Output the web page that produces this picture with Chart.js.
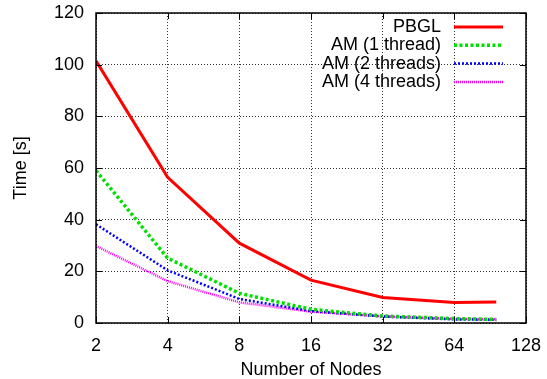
<!DOCTYPE html>
<html>
<head>
<meta charset="utf-8">
<script src="https://cdn.jsdelivr.net/npm/chart.js@4.4.0/dist/chart.umd.min.js"></script>
<style>
  body { margin: 0; background: #fff; }
  canvas { display: block; }
</style>
</head>
<body>
<canvas id="timeChart" width="547" height="379"></canvas>
<script>
// Number of nodes (x) and run times in seconds
const nodes = [2, 4, 8, 16, 32, 64, 96];
const xTicks = [2, 4, 8, 16, 32, 64, 128];
const pbgl = [101.5, 56.4, 30.9, 16.6, 9.9, 7.9, 8.1];
const am1 = [59, 25.1, 11.5, 5.3, 2.7, 1.7, 1.4];
const am2 = [38.2, 20.4, 9.3, 4.6, 2.5, 1.4, 1.2];
const am4 = [29.8, 16.2, 8.0, 4.4, 2.6, 1.6, 1.4];

const FONT = "Liberation Sans, Arial, sans-serif";

function pts(vals) {
  return vals.map((v, i) => ({ x: nodes[i], y: v }));
}

// gnuplot-like frame with inward ticks + legend in the top right
const framePlugin = {
  id: "frame",
  afterDatasetsDraw(chart) {
    const ctx = chart.ctx;
    const a = chart.chartArea;
    const xs = chart.scales.x, ys = chart.scales.y;
    ctx.save();
    ctx.strokeStyle = "#000";
    ctx.lineWidth = 1.5;
    ctx.setLineDash([]);
    ctx.strokeRect(a.left, a.top, a.right - a.left, a.bottom - a.top);
    ctx.lineWidth = 1;
    ctx.beginPath();
    xTicks.forEach(v => {
      const px = Math.round(xs.getPixelForValue(v)) + 0.5;
      ctx.moveTo(px, a.bottom); ctx.lineTo(px, a.bottom - 6);
      ctx.moveTo(px, a.top); ctx.lineTo(px, a.top + 6);
    });
    ys.ticks.forEach(t => {
      const py = Math.round(ys.getPixelForValue(t.value)) + 0.5;
      ctx.moveTo(a.left, py); ctx.lineTo(a.left + 6, py);
      ctx.moveTo(a.right, py); ctx.lineTo(a.right - 6, py);
    });
    ctx.stroke();

    // legend
    ctx.font = "18px " + FONT;
    ctx.textAlign = "right";
    ctx.textBaseline = "middle";
    chart.data.datasets.forEach((ds, i) => {
      const y = 27 + i * 18.3;
      ctx.fillStyle = "#000";
      ctx.fillText(ds.label, 441, y);
      ctx.strokeStyle = ds.borderColor;
      ctx.lineWidth = ds.borderWidth;
      ctx.setLineDash(ds.borderDash || []);
      ctx.beginPath();
      ctx.moveTo(454, y);
      ctx.lineTo(503, y);
      ctx.stroke();
    });
    ctx.restore();
  }
};

const gridOpts = { color: "rgba(0,0,0,0.8)", drawTicks: false, lineWidth: 1 };

const config = {
  type: "line",
  data: {
    datasets: [
      { label: "PBGL", data: pts(pbgl), borderColor: "#ff0000", borderWidth: 3, borderDash: [] },
      { label: "AM (1 thread)", data: pts(am1), borderColor: "#00e000", borderWidth: 3.5, borderDash: [3, 2.5] },
      { label: "AM (2 threads)", data: pts(am2), borderColor: "#0000ff", borderWidth: 2.5, borderDash: [2, 2] },
      { label: "AM (4 threads)", data: pts(am4), borderColor: "#ff00ff", borderWidth: 2.5, borderDash: [1, 1] }
    ]
  },
  options: {
    responsive: false,
    animation: false,
    layout: { padding: { left: 0, right: 21, top: 13, bottom: 0 } },
    elements: {
      point: { radius: 0 },
      line: { tension: 0, fill: false }
    },
    scales: {
      x: {
        type: "logarithmic",
        min: 2,
        max: 128,
        afterBuildTicks: scale => { scale.ticks = xTicks.map(v => ({ value: v })); },
        afterFit: scale => {
          scale.height = 56;
          scale.paddingLeft = 0;
          scale.paddingRight = 0;
        },
        border: { display: false, dash: [1, 2] },
        grid: gridOpts,
        ticks: {
          autoSkip: false,
          maxRotation: 0,
          padding: 12,
          color: "#000",
          font: { family: FONT, size: 18 },
          callback: v => String(v)
        },
        title: {
          display: true,
          text: "Number of Nodes",
          color: "#000",
          font: { family: FONT, size: 18, lineHeight: 1 },
          padding: { top: 0, bottom: 0 }
        }
      },
      y: {
        min: 0,
        max: 120,
        afterFit: scale => {
          scale.width = 96;
          scale.paddingTop = 0;
          scale.paddingBottom = 0;
        },
        border: { display: false, dash: [1, 2] },
        grid: gridOpts,
        ticks: {
          stepSize: 20,
          padding: 12,
          color: "#000",
          font: { family: FONT, size: 18 }
        },
        title: {
          display: true,
          text: "Time [s]",
          color: "#000",
          font: { family: FONT, size: 18, lineHeight: 1.2 },
          padding: { top: 10, bottom: 0 }
        }
      }
    },
    plugins: {
      legend: { display: false },
      tooltip: { enabled: false }
    }
  },
  plugins: [framePlugin]
};

new Chart(document.getElementById("timeChart"), config);
</script>
</body>
</html>
